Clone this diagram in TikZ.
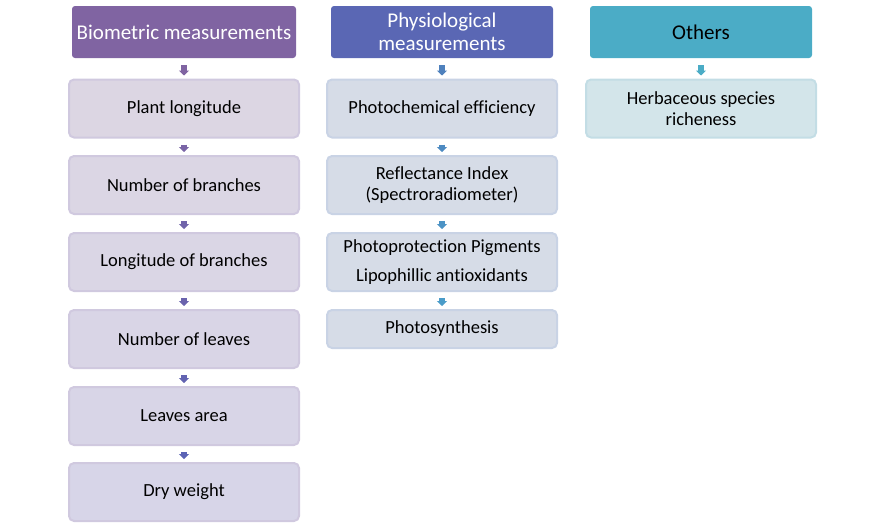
\documentclass[tikz,border=0pt]{standalone}
\usepackage{fontspec}
\setmainfont{Carlito}[Ligatures={NoCommon}]
\usetikzlibrary{arrows.meta}
\definecolor{hA}{HTML}{8064A2}
\definecolor{hB}{HTML}{5A67B4}
\definecolor{hC}{HTML}{4BACC6}
\definecolor{cA}{HTML}{DCD6E3}
\definecolor{cAe}{HTML}{D7D5E8}
\definecolor{bA}{HTML}{D0C9DF}
\definecolor{cB}{HTML}{D6DCE7}
\definecolor{bB}{HTML}{C9D3E5}
\definecolor{cC}{HTML}{D3E5EA}
\definecolor{bC}{HTML}{C3DDE5}
\definecolor{aA}{HTML}{8064A2}
\definecolor{aAe}{HTML}{5B63B5}
\definecolor{aB}{HTML}{4F81BD}
\definecolor{aBe}{HTML}{4A9CC9}
\definecolor{aC}{HTML}{4BACC6}
\tikzset{
  hdr/.style={rounded corners=3pt, minimum height=52pt, inner sep=2pt, align=center, font=\fontsize{21}{23}\selectfont},
  child/.style={rounded corners=5pt, minimum height=58pt, minimum width=230pt, line width=2pt, inner sep=2pt, align=center, font=\fontsize{18.5}{20.5}\selectfont, text=black},
  flow/.style={line width=6pt, -{Triangle[width=10pt,length=5pt]}, shorten <=7pt, shorten >=3pt}
}
\begin{document}
\begin{tikzpicture}[x=1pt,y=-1pt]
\useasboundingbox (0,0) rectangle (886,523);
% column 1
\node[hdr, fill=hA, text=white, minimum width=224pt] (h1) at (184,32) {Biometric measurements};
\node[child, fill=cA, draw=bA] (a1) at (184,108.5) {\raisebox{-1.5pt}{Plant longitude}};
\node[child, fill=cA!80!cAe, draw=bA] (a2) at (184,185) {\raisebox{-1.5pt}{Number of branches}};
\node[child, fill=cA!60!cAe, draw=bA] (a3) at (184,262) {\raisebox{-1.5pt}{Longitude of branches}};
\node[child, fill=cA!40!cAe, draw=bA] (a4) at (184,339) {\raisebox{-1.5pt}{Number of leaves}};
\node[child, fill=cA!20!cAe, draw=bA] (a5) at (184,416) {\raisebox{-1.5pt}{Leaves area}};
\node[child, fill=cAe, draw=bA] (a6) at (184,492) {\raisebox{-1.5pt}{Dry weight}};
\draw[flow, draw=aA] (h1) -- (a1);
\draw[flow, draw=aA!80!aAe, shorten <=6pt] (a1) -- (a2);
\draw[flow, draw=aA!60!aAe, shorten <=6pt] (a2) -- (a3);
\draw[flow, draw=aA!40!aAe, shorten <=6pt] (a3) -- (a4);
\draw[flow, draw=aA!20!aAe, shorten <=6pt] (a4) -- (a5);
\draw[flow, draw=aAe, shorten <=6pt] (a5) -- (a6);
% column 2
\node[hdr, fill=hB, text=white, minimum width=222pt] (h2) at (442,32) {Physiological\\measurements};
\node[child, fill=cB, draw=bB] (b1) at (442,108.5) {\raisebox{-1.5pt}{Photochemical efficiency}};
\node[child, fill=cB, draw=bB] (b2) at (442,185) {Reflectance Index\\(Spectroradiometer)};
\node[child, fill=cB, draw=bB] (b3) at (442,262) {Photoprotection Pigments\\[9pt]Lipophillic antioxidants};
\node[child, fill=cB, draw=bB, minimum height=38pt] (b4) at (442,329) {\raisebox{-1.5pt}{Photosynthesis}};
\draw[flow, draw=aB] (h2) -- (b1);
\draw[flow, draw=aB!67!aBe, shorten <=6pt] (b1) -- (b2);
\draw[flow, draw=aB!33!aBe, shorten <=6pt] (b2) -- (b3);
\draw[flow, draw=aBe, shorten <=6pt] (b3) -- (b4);
% column 3
\node[hdr, fill=hC, text=black, minimum width=222pt] (h3) at (701,32) {Others};
\node[child, fill=cC, draw=bC] (c1) at (701,108.5) {Herbaceous species\\richeness};
\draw[flow, draw=aC] (h3) -- (c1);
\end{tikzpicture}
\end{document}
